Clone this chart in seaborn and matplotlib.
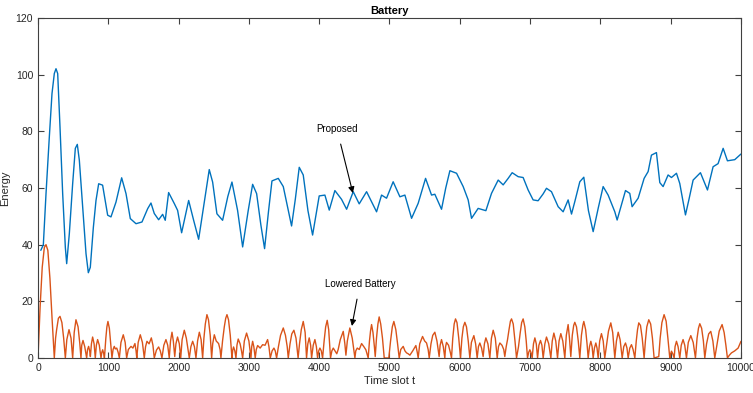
import matplotlib
matplotlib.use("Agg")
import matplotlib.pyplot as plt
import seaborn as sns
import pandas as pd

sns.set_style("white")
plt.rcParams['font.family'] = ['Liberation Sans', 'DejaVu Sans']

# Proposed (blue) series: time slot, energy
prop_t = [40, 76, 114, 161, 199, 232, 256, 280, 313, 351, 389, 408, 446, 493, 531, 559, 588,
          635, 683, 716, 744, 787, 825, 863, 919, 991, 1038, 1109, 1190, 1252, 1313, 1394,
          1479, 1560, 1607, 1654, 1716, 1773, 1810, 1858, 1939, 1986, 2043, 2143, 2214, 2285,
          2360, 2436, 2484, 2545, 2626, 2700, 2759, 2839, 2911, 2990, 3053, 3110, 3170, 3223,
          3280, 3328, 3418, 3489, 3607, 3660, 3716, 3773, 3840, 3906, 4000, 4081, 4143, 4223,
          4318, 4390, 4484, 4569, 4674, 4816, 4887, 4958, 5052, 5148, 5219, 5314, 5408, 5513,
          5598, 5645, 5740, 5800, 5859, 5954, 6048, 6119, 6167, 6261, 6371, 6451, 6546, 6617,
          6688, 6745, 6830, 6901, 6972, 7043, 7114, 7185, 7233, 7304, 7399, 7470, 7541, 7589,
          7636, 7707, 7764, 7830, 7897, 7970, 8039, 8110, 8205, 8238, 8357, 8418, 8451, 8537,
          8622, 8679, 8726, 8797, 8845, 8892, 8963, 9011, 9082, 9129, 9170, 9210, 9260, 9319,
          9423, 9523, 9603, 9674, 9746, 9807, 9911, 10000]
prop_v = [38, 40, 58, 78, 93.3, 100.4, 102.1, 100.4, 81.5, 58, 39, 33.3, 44, 61.5, 74, 75.4, 69.8,
          53.3, 36.8, 30.1, 32, 46, 55.6, 61.5, 61, 50.4, 49.8, 55, 63.6, 58, 49.2, 47.4,
          48, 52.7, 54.7, 51, 48.8, 50.7, 48.6, 58.4, 54.5, 52.1, 44.2, 55.6, 48.6, 41.9,
          54, 66.5, 62.1, 50.9, 48.6, 57, 62.1, 52.1, 39.2, 52, 61.3, 58, 47, 38.6,
          52, 62.5, 63.4, 60.5, 46.6, 56, 67.3, 64.6, 52, 43.4, 57.2, 57.5, 52.2, 59.1,
          56, 52.5, 58.7, 54.4, 58.7, 51.6, 57.5, 56.4, 62.2, 56.9, 57.5, 49.3, 54.6, 63.4,
          57.5, 57.8, 52.5, 60, 66.1, 65.2, 60.5, 55.8, 49.3, 52.8, 52, 58.1, 62.8, 61.1,
          63.4, 65.4, 64, 63.7, 59.3, 55.8, 55.5, 57.9, 59.9, 58.7, 53.4, 51.6, 55.8, 50.8,
          55.2, 62.2, 63.8, 52, 44.6, 53, 60.5, 57.5, 51.6, 48.7, 59.1, 58.1, 53.4, 56.4,
          63.4, 65.8, 71.6, 72.5, 61.9, 60.5, 64.6, 63.7, 65.2, 61.6, 56, 50.5, 56, 62.8,
          65.4, 59.3, 67.5, 68.6, 74, 69.6, 70, 72]

# Lowered Battery (orange) series: time slot, energy
low_t = [0, 30, 60, 90, 114, 140, 170, 200, 232,
         250, 265, 290, 313, 340, 365, 389,
         410, 441, 470, 493,
         515, 540, 570, 595, 611,
         622, 640, 665, 692,
         705, 720, 735, 745,
         760, 777, 798, 815,
         830, 848, 872, 896,
         908, 920, 935, 945,
         965, 980, 995, 1015, 1035, 1052,
         1068, 1085, 1100, 1120, 1140, 1157,
         1180, 1213, 1240, 1261,
         1285, 1323, 1350, 1379, 1395, 1405,
         1425, 1455, 1485, 1512,
         1530, 1550, 1580, 1612, 1635, 1654,
         1685, 1716, 1740, 1763,
         1790, 1820, 1845, 1867,
         1885, 1906, 1925, 1945, 1962, 1985, 2010, 2030, 2050, 2081, 2110, 2152,
         2175, 2200, 2225, 2247,
         2270, 2295, 2320, 2342,
         2360, 2380, 2403, 2425, 2450, 2470,
         2485, 2508, 2535, 2569, 2590, 2602,
         2625, 2650, 2670, 2688, 2710, 2735, 2759,
         2770, 2782, 2800, 2816, 2830, 2848, 2875, 2895, 2911,
         2935, 2967, 3000, 3029,
         3040, 3053, 3070, 3090,
         3105, 3124, 3160, 3195, 3230, 3266, 3285, 3304,
         3330, 3356, 3375, 3394,
         3420, 3450, 3489, 3520, 3545, 3560,
         3585, 3610, 3640, 3670, 3700,
         3720, 3745, 3773, 3800, 3820,
         3838, 3858, 3878, 3892,
         3915, 3939, 3960, 3977,
         3993, 4010, 4030, 4048,
         4070, 4092, 4114, 4135, 4161,
         4180, 4200, 4225, 4250, 4270, 4300, 4342, 4365, 4380, 4400, 4436, 4470, 4508,
         4520, 4541, 4570, 4603, 4635, 4664, 4697,
         4715, 4730, 4745, 4765, 4785, 4797, 4815, 4835, 4853, 4875, 4900, 4925,
         4990, 5015, 5040, 5062, 5090, 5115, 5138,
         5160, 5195, 5220, 5243, 5265, 5290, 5330, 5375, 5395, 5408,
         5430, 5470, 5500, 5527, 5550, 5565,
         5590, 5615, 5645, 5675, 5706,
         5720, 5740, 5765, 5787,
         5798, 5811, 5840, 5865, 5882,
         5900, 5920, 5939, 5960, 5985, 6010,
         6030, 6050, 6072, 6095, 6120, 6143,
         6165, 6200, 6225, 6247,
         6265, 6285, 6310, 6332, 6350, 6371, 6400, 6427,
         6450, 6475, 6505, 6532,
         6550, 6570, 6600, 6625, 6640,
         6660, 6679, 6700, 6720, 6736, 6760, 6785, 6807,
         6835, 6860, 6880, 6901, 6925, 6945, 6963,
         6980, 6996, 7012, 7029,
         7048, 7068, 7088, 7106,
         7125, 7148, 7168, 7186,
         7210, 7233, 7265, 7295,
         7315, 7338, 7365, 7390,
         7412, 7437, 7465, 7494,
         7515, 7541, 7560, 7579, 7600, 7620, 7636, 7660, 7685, 7707,
         7730, 7750, 7764, 7790, 7810, 7826,
         7845, 7864, 7882, 7897, 7915, 7935, 7952, 7968,
         7990, 8015, 8040, 8062,
         8090, 8115, 8148, 8175, 8205,
         8228, 8253, 8280, 8310,
         8332, 8357, 8378, 8395, 8418, 8442, 8465, 8490,
         8510, 8528, 8546, 8570, 8595, 8622,
         8640, 8660, 8688, 8715, 8740, 8764,
         8830, 8850, 8875, 8906, 8935, 8960, 8987,
         9000, 9011, 9030, 9049,
         9062, 9082, 9105, 9129,
         9150, 9176, 9200, 9224,
         9250, 9286, 9320, 9352,
         9375, 9395, 9414, 9440, 9465, 9485,
         9510, 9540, 9570, 9600, 9627,
         9660, 9690, 9731, 9760, 9785, 9807,
         9835, 9864, 9910, 9959, 10000]
low_v = [0, 18, 32, 39, 40, 38, 28, 14, 0,
         7, 10, 14, 14.7, 12.5, 7, 0,
         6.5, 10, 7, 0,
         9, 13.5, 11, 5, 0,
         4.5, 6.2, 4, 0,
         3, 4.1, 2.5, 0.5,
         5, 7.4, 5, 0,
         4.5, 6.5, 4.5, 0,
         2, 2.9, 1.5, 0,
         7, 11, 12.9, 10.5, 5, 0,
         3, 4.1, 3.2, 3.5, 2, 0,
         5.5, 8.2, 5.5, 0,
         3, 4.1, 3.5, 5.1, 2.5, 0,
         5.5, 8.2, 5.5, 0,
         4, 5.9, 5, 7.1, 4.5, 0,
         2.8, 3.9, 2.5, 0,
         4.5, 6.5, 4.5, 0,
         6, 9.1, 6, 0.5, 5, 7.4, 5, 0, 6.5, 9.8, 7, 0,
         4, 5.9, 4, 0,
         6, 9.1, 6.5, 0,
         7, 12, 15.3, 13.5, 8, 0,
         5, 8.2, 6, 5.1, 3, 0,
         6, 11, 14, 15.3, 13.5, 8, 0,
         2.8, 3.9, 2.5, 0, 4.5, 6.7, 5, 2.5, 0,
         6, 8.8, 6, 0,
         4, 5.9, 4, 0,
         3, 4.4, 3.5, 4.7, 4.5, 6.5, 4, 0,
         2.5, 3.5, 2.5, 0,
         4, 8, 10.6, 8, 4, 0,
         5, 8.5, 9.8, 7, 0,
         5, 10, 12.9, 9, 0,
         5, 7.1, 4.5, 0,
         4.5, 6.5, 4, 0,
         2.5, 3.5, 2.5, 0,
         6, 11, 13.3, 10, 0,
         2.5, 3.5, 2.5, 1.5, 3, 6.5, 9.4, 5, 1, 6, 10.6, 7, 0,
         2.5, 3.5, 3, 5.1, 4, 2.9, 0,
         6, 9.5, 11.8, 9, 4, 0.5, 7, 12, 14.5, 12, 7, 0,
         0, 6, 11, 12.9, 10, 5, 0,
         3, 4.1, 2.5, 1.8, 1.5, 1.0, 2.5, 4.4, 2, 0,
         5, 7.6, 6, 5.3, 3, 0,
         5, 8, 9.1, 6, 0.5,
         4.5, 6.5, 4, 0,
         4, 5.5, 4.5, 2, 0,
         7, 12, 13.8, 12.5, 7, 0,
         7, 11, 12.6, 11, 6, 0,
         5.5, 7.9, 5, 0,
         4, 5.3, 3.5, 0.5, 5, 7.1, 5, 0,
         7, 9.8, 7, 0,
         4, 5.3, 4.5, 3, 0.5,
         4, 6.5, 10, 13, 13.8, 12, 6, 0,
         4, 9, 12.5, 13.8, 11, 6, 0,
         2, 2.9, 2, 0,
         5, 7.1, 5, 0,
         4.5, 6.2, 4.5, 0,
         5, 7.4, 5, 0,
         6, 8.8, 6, 0,
         6, 8.6, 6, 0,
         8, 11.8, 7, 0.5, 8, 11.5, 12.6, 11, 6, 0,
         8, 11.5, 12.9, 10, 5, 0,
         4, 5.9, 4, 0, 3.5, 5.3, 3.5, 0,
         6, 8.6, 6, 0,
         5, 9.5, 12.4, 9, 0,
         6, 9.1, 6.5, 0,
         4, 5.3, 3.5, 0, 3.5, 4.7, 3, 0,
         6, 10, 12.4, 11.5, 7, 0,
         6, 11, 13.5, 12, 7, 0,
         0.5, 7, 12.5, 15.3, 13, 7, 0,
         1.5, 2.4, 1.5, 0,
         4, 5.9, 4, 0,
         4.5, 6.5, 4.5, 0,
         5.5, 7.9, 5.5, 0,
         7, 10.5, 12.1, 10.5, 6, 0,
         5, 8.5, 9.4, 6, 0,
         5, 9.5, 11.8, 9, 4.5, 0,
         1, 1.8, 2.5, 3.5, 5.9]

x_ticks = [0, 1000, 2000, 3000, 4000, 5000, 6000, 7000, 8000, 9000, 10000]
y_ticks = [0, 20, 40, 60, 80, 100, 120]

blue = "#0072BD"
orange = "#D95319"

df_p = pd.DataFrame({"t": prop_t, "v": prop_v})
df_l = pd.DataFrame({"t": low_t, "v": low_v})

fig = plt.figure(figsize=(7.53, 3.93), dpi=100)
ax = fig.add_axes([38/753, 1 - 358/393, (741-38)/753, (358-18)/393])

sns.lineplot(data=df_p, x="t", y="v", ax=ax, color=blue, linewidth=1.0,
             estimator=None, sort=False)
sns.lineplot(data=df_l, x="t", y="v", ax=ax, color=orange, linewidth=1.0,
             estimator=None, sort=False)

ax.set_xlim(0, 10000)
ax.set_ylim(0, 120)
ax.set_xticks(x_ticks)
ax.set_yticks(y_ticks)
ax.set_xticklabels([str(v) for v in x_ticks])
ax.set_yticklabels([str(v) for v in y_ticks])

gray = "#262626"
for s in ax.spines.values():
    s.set_visible(True)
    s.set_color("#404040")
    s.set_linewidth(0.8)
ax.tick_params(axis="both", direction="in", length=4, width=0.8, colors="#404040",
               labelsize=7.5, labelcolor=gray, top=True, right=True,
               bottom=True, left=True)

ax.set_title("Battery", fontsize=8, fontweight="bold", color="black", pad=3)
ax.set_xlabel("Time slot t", fontsize=8, color=gray, labelpad=2)
ax.set_ylabel("Energy", fontsize=8, color=gray, labelpad=4)

ax.annotate("Proposed", xy=(4479, 58.2), xytext=(4252, 80.8),
            fontsize=7, color="black", ha="center", va="center",
            arrowprops=dict(arrowstyle="-|>", color="black", lw=0.8,
                            mutation_scale=9, shrinkA=5, shrinkB=0))
ax.annotate("Lowered Battery", xy=(4465, 11.3), xytext=(4579, 26.1),
            fontsize=7, color="black", ha="center", va="center",
            arrowprops=dict(arrowstyle="-|>", color="black", lw=0.8,
                            mutation_scale=9, shrinkA=5, shrinkB=0))

fig.savefig("out.png", dpi=100)
